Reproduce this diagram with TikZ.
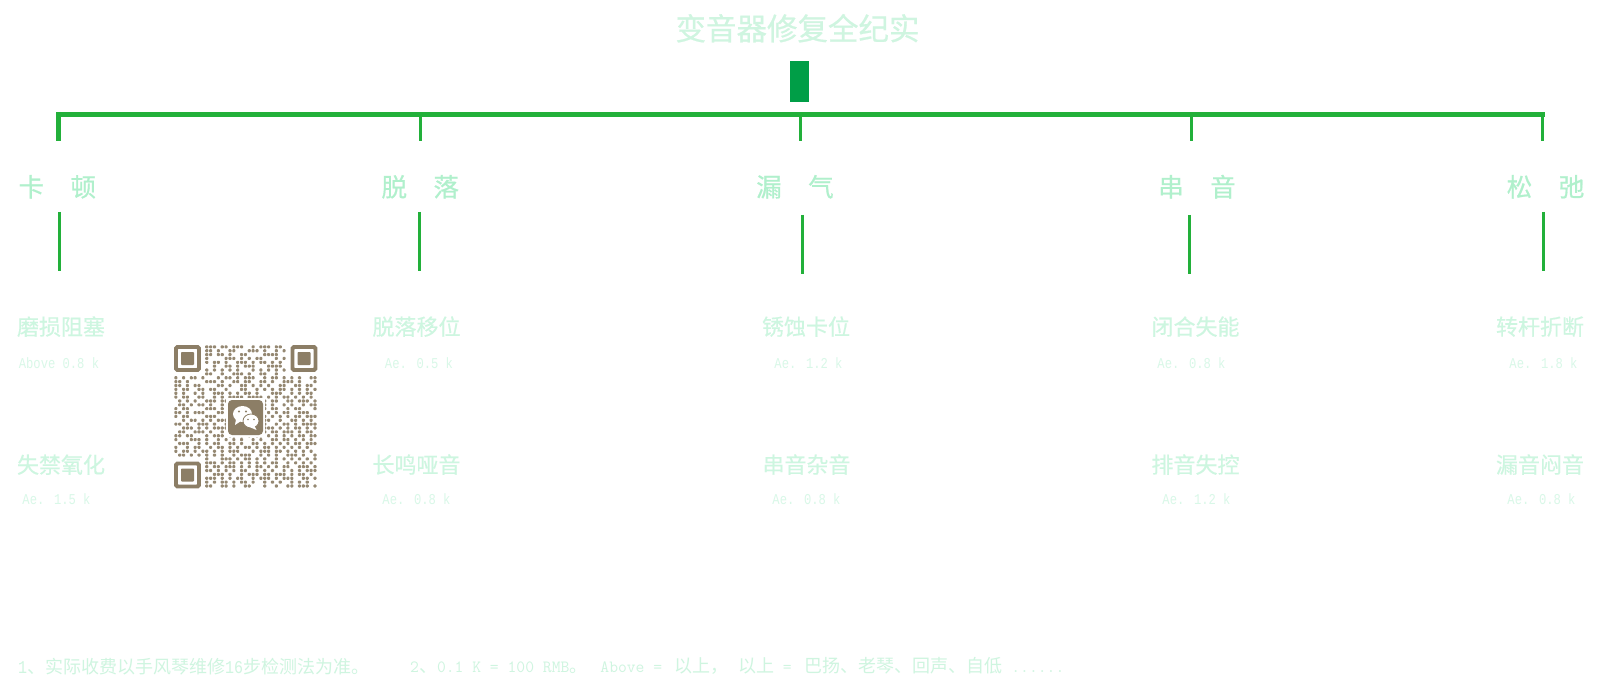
\documentclass[tikz,border=0pt]{standalone}
\usepackage{fontspec}
\newfontfamily\cjk{Noto Sans CJK SC}
\newfontfamily\cjkmid[FakeBold=0.6]{Noto Sans CJK SC}
\newfontfamily\cjkfirm[FakeBold=0.3]{Noto Sans CJK SC}
\newfontfamily\halfmono[FakeStretch=0.81]{Liberation Mono}
\newfontfamily\halfmonowide[FakeStretch=0.8333]{Liberation Mono}
\newcommand{\serifpart}[1]{{\fontsize{17.14}{18}\ttfamily #1}}
\newcommand{\halfpart}[1]{{\fontsize{18}{18}\halfmonowide #1}}
\definecolor{titlegreen}{HTML}{CFF5E0}
\definecolor{headgreen}{HTML}{B0F0CC}
\definecolor{subgreen}{HTML}{CDF6E0}
\definecolor{pricegreen}{HTML}{D9F8E8}
\definecolor{footgreen}{HTML}{CFF5E0}
\definecolor{linegreen}{HTML}{22B03A}
\definecolor{bargreen}{HTML}{009E47}
\definecolor{qrbrown}{HTML}{8C7E66}
\newcount\qrx
\newcount\qry
\def\qrscan#1{\ifx#1;\else
  \if#1x\ifnum\numexpr(\qrx*3+\qry*5)-7*((\qrx*3+\qry*5-3)/7)\relax=0 \else
  \fill[qrdot] ({174.3+\the\qrx*3.865},{345.3+\the\qry*3.865}) rectangle +(3.1,3.1);\fi\fi
  \advance\qrx 1 \expandafter\qrscan\fi}
\def\qrrow#1{\qrx=0 \qrscan#1;\advance\qry 1 }
\tikzset{
  qrdot/.style={fill=qrbrown!92!white,rounded corners=0.9pt},
  titletext/.style={anchor=base,inner sep=0pt,text=titlegreen,font=\cjkmid\fontsize{30.5}{30}\selectfont},
  headtext/.style={anchor=base,inner sep=0pt,text=headgreen,font=\cjkmid\fontsize{25.5}{26}\selectfont},
  subtext/.style={anchor=base,inner sep=0pt,text=subgreen,font=\cjkfirm\fontsize{22}{22}\selectfont},
  pricetext/.style={anchor=base,inner sep=0pt,text=pricegreen,font=\halfmono\fontsize{15}{15}\selectfont},
  foottext/.style={anchor=base west,inner sep=0pt,text=footgreen,font=\cjk\fontsize{18}{18}\selectfont},
  busline/.style={draw=linegreen,line width=5pt},
  dropline/.style={draw=linegreen,line width=3pt},
  finderring/.style={draw=qrbrown,line width=3.9pt,rounded corners=1.5pt},
  findercore/.style={fill=qrbrown,rounded corners=0.8pt},
}
\begin{document}
\begin{tikzpicture}[x=1pt,y=-1pt]
\useasboundingbox (0,0) rectangle (1600,700);
\fill[white] (0,0) rectangle (1600,700);

\node[titletext] (title) at (797.5,40) {变音器修复全纪实};
\fill[bargreen] (790,61) rectangle (809,102);

% bus and drops
\coordinate (busL) at (56,114.5);
\coordinate (busR) at (1545,114.5);
\draw[busline] (busL) -- (busR);
\draw[busline] (58.5,112) -- (58.5,141);
\draw[dropline] (420.5,117) -- (420.5,141);
\draw[dropline] (800.5,117) -- (800.5,141);
\draw[dropline] (1191.5,117) -- (1191.5,141);
\draw[dropline] (1542.5,117) -- (1542.5,141);

% heads
\node[headtext] (h1) at (57.25,196.5) {卡\hspace{26.5pt}顿};
\node[headtext] (h2) at (420.25,196.5) {脱\hspace{26.5pt}落};
\node[headtext] (h3) at (795,196.5) {漏\hspace{26.5pt}气};
\node[headtext] (h4) at (1197,196.5) {串\hspace{26.5pt}音};
\node[headtext] (h5) at (1545.5,196.5) {松\hspace{26.5pt}弛};

% lower drops
\draw[dropline] (59.5,212) -- (59.5,271);
\draw[dropline] (419.5,212) -- (419.5,271);
\draw[dropline] (802.5,215) -- (802.5,274);
\draw[dropline] (1189.5,215) -- (1189.5,274);
\draw[dropline] (1543.5,212) -- (1543.5,271);

% row 1
\node[subtext] (a1) at (61,335) {磨损阻塞};
\node[subtext] (a2) at (416.5,335) {脱落移位};
\node[subtext] (a3) at (806,335) {锈蚀卡位};
\node[subtext] (a4) at (1195.5,335) {闭合失能};
\node[subtext] (a5) at (1540,335) {转杆折断};
\node[pricetext] (p1) at (59,368) {Above 0.8 k};
\node[pricetext] (p2) at (419,368) {Ae. 0.5 k};
\node[pricetext] (p3) at (808.5,368) {Ae. 1.2 k};
\node[pricetext] (p4) at (1191.5,368) {Ae. 0.8 k};
\node[pricetext] (p5) at (1543.5,368) {Ae. 1.8 k};

% row 2
\node[subtext] (b1) at (61,473) {失禁氧化};
\node[subtext] (b2) at (416.5,473) {长鸣哑音};
\node[subtext] (b3) at (806.5,473) {串音杂音};
\node[subtext] (b4) at (1195.5,473) {排音失控};
\node[subtext] (b5) at (1540,473) {漏音闷音};
\node[pricetext] (q1) at (56.5,504) {Ae. 1.5 k};
\node[pricetext] (q2) at (416.5,504) {Ae. 0.8 k};
\node[pricetext] (q3) at (806.5,504) {Ae. 0.8 k};
\node[pricetext] (q4) at (1196.5,504) {Ae. 1.2 k};
\node[pricetext] (q5) at (1541.5,504) {Ae. 0.8 k};

% footer
\node[foottext] (f1) at (18,673) {\halfpart{1}、实际收费以手风琴维修\halfpart{16}步检测法为准。};
\node[foottext] (f2) at (410,672.5) {\serifpart{2}、\serifpart{0.1 K = 100 RMB}。\hspace{13pt}\serifpart{Above = }\hspace{3pt}以上，\hspace{10pt}以上\serifpart{ = }\hspace{4pt}巴扬、老琴、回声、自低\serifpart{ ......}};

% QR code
\qry=0
\qrrow{........xxx.xx.xxx..x.xxx.xxx........}
\qrrow{........xxxx..xx.x.xxx.xx.x.x........}
\qrrow{........xx.xxxx..xx.x..xxxxx.........}
\qrrow{........x....xxxxx.x.xxx..x.x........}
\qrrow{........x.xx.x..xxx.x.xx.x.x.........}
\qrrow{........x.x..xx.x.xxx...xxxx.........}
\qrrow{........x.x.x.x.x.x.x.x.x.x.x........}
\qrrow{........xx..x..xxx.x..xx..x.x........}
\qrrow{x.xxxx.x..xx.xx.x.xxx..x.xx.x.xxx..xx}
\qrrow{xx.x..x.xxx.x..xx.xxx.xx.x..xxx.x.x.x}
\qrrow{xxxx.xx..x.xx.x.xxx.x.xxx..xx.xxx.xx.}
\qrrow{x.xx.xxx.xx..x...xx..x.x.x.xx.x.xxx.x}
\qrrow{xxx..x.xx.xxx.x.x.xx.xx..xxx.xx.x.xxx}
\qrrow{x.xxx.xx..x.x.xxxxxxxxx.xxx.xx.xxx.x.}
\qrrow{xx.x.x..xxx.xx.........x.xx.xxx.xxx.x}
\qrrow{.xx.x.xx.xx.x..........xxx..x.xx.x.xx}
\qrrow{x.xx..x.xxx.xx.........x.xxx.x.xx.x.x}
\qrrow{xx.x.xxx.x.xx..........xx.x.xxx.xxx..}
\qrrow{x.xx.x..xxx.x..........x.xxx.x.xx.xxx}
\qrrow{.xx.xx.x.x.xxx.........xx..x.xxx.x.x.}
\qrrow{xx.x..xxx.xx.x.........x.xx.xx.x.xxxx}
\qrrow{x.xxx.x.x.xxxx.........xxx.x.x.xx.x.x}
\qrrow{.xxx.xxx.xx.x..........x.xx.xxx.x.xx.}
\qrrow{xx.xx.x.x.xxx.xx.x.x.xx.x.xxx.x.xx.xx}
\qrrow{x.x.xxx.xx.x.x.xxx..x.xx.xx.xx.x.x.x.}
\qrrow{.xxx..x.x.xxx.xx.x.xxx.x.xxx.x.xx.xxx}
\qrrow{xx.x.xx..x.xx.x.x.xx.x.xx.x.xxx.x.x.x}
\qrrow{x.xx.x.xx.xxx.xxx.x.x.xxx.xx.x.xxx.x.}
\qrrow{xxx.x.x.x.x.x.xx.xxx.xx.x.x.xxxx.x.xx}
\qrrow{........x.x.xxx.x.xx.x.xx.x.x.xxx.x.x}
\qrrow{........xxx.x.xx.x.xxx.x.xxx.x.x.xxx.}
\qrrow{........x.xx.xxx.x.x.xx.x.x.xxx.xxx.x}
\qrrow{........xx.x.x.x.xxx.x.x.xx.x.x.x.xxx}
\qrrow{........x.xxx.xx.x.xxx.xx.xxx.x.xx.x.}
\qrrow{........xxx.x.x.xxx.x.xxx.x.xxx.xxx.x}
\qrrow{........x.x.xx.x.xx.xx.x.x.xx.x.x.xx.}
\qrrow{........xx..xx.x..xx...xx.x..xx.xxx.x}

% finder patterns
\draw[finderring] (176,347) rectangle (199,370);
\fill[findercore] (181,352) rectangle (194,365);
\draw[finderring] (292.5,347) rectangle (315.5,370);
\fill[findercore] (297.5,352) rectangle (310.5,365);
\draw[finderring] (176,463.5) rectangle (199,486.5);
\fill[findercore] (181,468.5) rectangle (194,481.5);

% centre logo
\fill[white] (226,398) rectangle (265,437);
\fill[qrbrown,rounded corners=4pt] (228,400) rectangle (263,435);
\fill[white] (242.5,414) ellipse [x radius=9.5,y radius=8];
\fill[white] (236,419) -- (235,425) -- (241,421) -- cycle;
\fill[qrbrown] (239,411.5) circle [radius=1.2];
\fill[qrbrown] (246,411.5) circle [radius=1.2];
\fill[white,draw=qrbrown,line width=0.8pt] (251,421) ellipse [x radius=8,y radius=7];
\fill[white] (254.5,426) -- (256.5,430) -- (250.5,427.5) -- cycle;
\fill[qrbrown] (248,419.5) circle [radius=0.9];
\fill[qrbrown] (254,419.5) circle [radius=0.9];
\end{tikzpicture}
\end{document}
